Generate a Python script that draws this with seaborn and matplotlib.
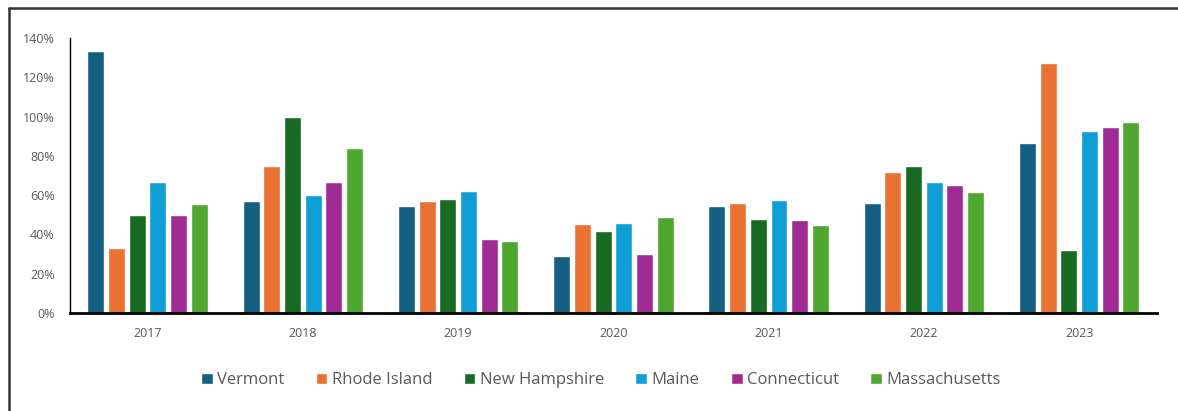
import numpy as np
import pandas as pd
import matplotlib.pyplot as plt
import seaborn as sns
from matplotlib.lines import Line2D
from matplotlib.ticker import PercentFormatter

# values (fraction, 1.0 = 100%)
years = ["2017", "2018", "2019", "2020", "2021", "2022", "2023"]
states = ["Vermont", "Rhode Island", "New Hampshire", "Maine", "Connecticut", "Massachusetts"]
vermont = [1.334, 0.57, 0.545, 0.29, 0.545, 0.558, 0.867]
rhode_island = [0.33, 0.75, 0.57, 0.451, 0.56, 0.718, 1.271]
new_hampshire = [0.50, 1.00, 0.58, 0.419, 0.478, 0.748, 0.319]
maine = [0.667, 0.60, 0.621, 0.458, 0.575, 0.665, 0.926]
connecticut = [0.50, 0.667, 0.375, 0.30, 0.475, 0.652, 0.947]
massachusetts = [0.556, 0.84, 0.367, 0.487, 0.449, 0.616, 0.972]

colors = ["#156082", "#E97132", "#196B24", "#0F9ED5", "#A02B93", "#4EA72E"]

series = [vermont, rhode_island, new_hampshire, maine, connecticut, massachusetts]
rows = []
for name, vals in zip(states, series):
    for yr, v in zip(years, vals):
        rows.append({"Year": yr, "State": name, "Value": v})
df = pd.DataFrame(rows)

sns.set_style("white")
plt.rcParams["font.family"] = ["Open Sans", "DejaVu Sans"]

fig = plt.figure(figsize=(11.78, 4.11), dpi=100)
ax = fig.add_axes([0.0594, 0.2384, 0.9226, 0.6691])

sns.barplot(data=df, x="Year", y="Value", hue="State", hue_order=states,
            order=years, palette=colors, width=0.8, gap=0.18,
            saturation=1, errorbar=None, ax=ax)

ax.set_ylim(0, 1.4)
ax.set_yticks(np.arange(0, 1.41, 0.2))
ax.yaxis.set_major_formatter(PercentFormatter(1.0, decimals=0))
ax.set_xlim(-0.5, 6.5)
ax.set_xlabel("")
ax.set_ylabel("")
ax.tick_params(axis="both", length=0, labelsize=9, labelcolor="#595959")
ax.tick_params(axis="x", pad=10)
ax.tick_params(axis="y", pad=11)

for s in ["top", "right"]:
    ax.spines[s].set_visible(False)
ax.spines["left"].set_color("black")
ax.spines["left"].set_linewidth(1.0)
ax.spines["bottom"].set_color("black")
ax.spines["bottom"].set_linewidth(2)

ax.legend_.remove()
handles, labels = ax.get_legend_handles_labels()
fig.legend(handles, labels, loc="center", bbox_to_anchor=(0.51, 0.075), ncol=6,
           frameon=False, fontsize=12, labelcolor="#595959",
           handlelength=0.7, handleheight=0.7, handletextpad=0.25,
           columnspacing=1.9)

# outer frame of the chart (left and top edges visible)
fig.add_artist(Line2D([0.0075, 0.0075], [0, 0.98], transform=fig.transFigure,
                      color="#333333", lw=1.8))
fig.add_artist(Line2D([0.0075, 1.0], [0.98, 0.98], transform=fig.transFigure,
                      color="#333333", lw=1.8))

fig.savefig("out.png", dpi=100)
